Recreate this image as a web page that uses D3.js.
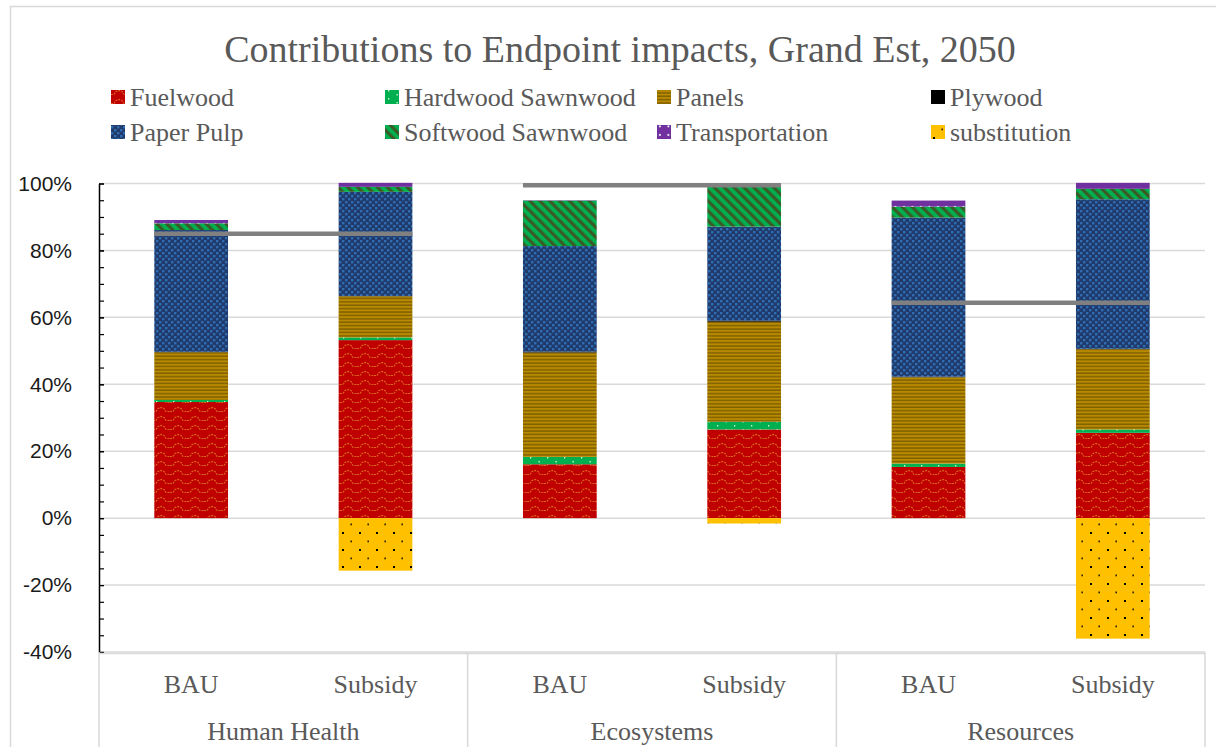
<!DOCTYPE html>
<html lang="en">
<head>
<meta charset="UTF-8">
<title>Contributions to Endpoint impacts, Grand Est, 2050</title>
<script src="https://d3js.org/d3.v7.min.js"></script>
<style>
  body { margin: 0; background: #fff; }
  svg { display: block; }
</style>
</head>
<body>
<svg id="chart" width="1216" height="747"></svg>
<script>
// categories
var groups = ["Human Health", "Ecosystems", "Resources"];
var scenarios = ["BAU", "Subsidy"];

// series values in % (BAU, Subsidy for each group)
var fuelwood      = [34.7, 53.2, 16.1, 26.5, 15.3, 25.5];
var hardwood      = [0.6, 0.8, 2.2, 2.3, 1.0, 1.0];
var panels        = [14.3, 12.3, 31.2, 29.9, 25.8, 24.0];
var plywood       = [0.1, 0.1, 0.3, 0.3, 0.2, 0.1];
var paperPulp     = [36.4, 31.1, 31.5, 28.1, 47.5, 44.7];
var softwood      = [2.0, 1.5, 13.6, 12.4, 3.3, 3.1];
var transport     = [1.0, 1.2, 0.1, 0.2, 1.8, 1.8];
var substitution  = [0, -15.7, 0, -1.6, 0, -36.0];
// grey line per group (net)
var netLine = [85.0, 99.5, 64.4];

var yTicks = [-40, -20, 0, 20, 40, 60, 80, 100];

var series = [
  { name: "Fuelwood", values: fuelwood, fill: "url(#pFuel)" },
  { name: "Hardwood Sawnwood", values: hardwood, fill: "url(#pHard)" },
  { name: "Panels", values: panels, fill: "url(#pPanels)" },
  { name: "Plywood", values: plywood, fill: "#000000" },
  { name: "Paper Pulp", values: paperPulp, fill: "url(#pPulp)" },
  { name: "Softwood Sawnwood", values: softwood, fill: "url(#pSoft)" },
  { name: "Transportation", values: transport, fill: "url(#pTrans)" },
  { name: "substitution", values: substitution, fill: "url(#pSubst)" }
];

var svg = d3.select("#chart");
var grey = "#595959";
var serif = "'Liberation Serif', 'Times New Roman', serif";

// ---- patterns (imitating Excel pattern fills)
var defs = svg.append("defs");
function pattern(id, w, h, bg) {
  var p = defs.append("pattern").attr("id", id)
    .attr("patternUnits", "userSpaceOnUse").attr("width", w).attr("height", h);
  p.append("rect").attr("width", w).attr("height", h).attr("fill", bg);
  return p;
}
// fuelwood: red with orange waves
var pf = pattern("pFuel", 17, 9, "#C00000");
pf.append("path").attr("d", "M0,6.5 L3,6.5 L5,3.5 L8,2.5 L11,3.5 L13,6.5 L17,6.5")
  .attr("fill", "none").attr("stroke", "#D9651C").attr("stroke-width", 1.2).attr("stroke-dasharray", "2,1");
// hardwood: green with light dots
var ph = pattern("pHard", 17, 8, "#00B050");
ph.append("rect").attr("x", 3).attr("y", 1).attr("width", 1.3).attr("height", 1.5).attr("fill", "#d8f5d8");
ph.append("rect").attr("x", 11.5).attr("y", 5).attr("width", 1.3).attr("height", 1.5).attr("fill", "#d8f5d8");
// panels: gold with dark horizontal lines
var pp = pattern("pPanels", 8, 3.4, "#B88A00");
pp.append("rect").attr("y", 2).attr("width", 8).attr("height", 1.3).attr("fill", "#7A5C00");
// paper pulp: blue checker
var pu = pattern("pPulp", 6, 6, "#203A6C");
pu.append("rect").attr("x", 0).attr("y", 0).attr("width", 2.4).attr("height", 2.4).attr("fill", "#2F6DB3");
pu.append("rect").attr("x", 3).attr("y", 3).attr("width", 2.4).attr("height", 2.4).attr("fill", "#2F6DB3");
// softwood: green with dark diagonal stripes
var ps = pattern("pSoft", 7, 7, "#00B050").attr("patternTransform", "rotate(-45)");
ps.append("rect").attr("width", 3.2).attr("height", 7).attr("fill", "#3A5A26");
// transportation: purple with white dots
var pt = pattern("pTrans", 8.5, 8.5, "#7030A0");
pt.append("rect").attr("x", 2).attr("y", 2).attr("width", 1.8).attr("height", 1.8).attr("fill", "#ffffff");
// substitution: yellow with black dots
var pb = pattern("pSubst", 17, 17, "#FFC000");
pb.append("rect").attr("x", 2).attr("y", 5).attr("width", 2).attr("height", 2).attr("fill", "#000");
pb.append("rect").attr("x", 10.5).attr("y", 13.5).attr("width", 1.3).attr("height", 1.8).attr("fill", "#000");

// ---- outer frame
svg.append("rect").attr("x", 10.5).attr("y", 6.5).attr("width", 1300).attr("height", 900)
  .attr("fill", "none").attr("stroke", "#d9d9d9").attr("stroke-width", 1.5);

// ---- scales
var left = 99, right = 1205;
var cats = [];
groups.forEach(function (g) { scenarios.forEach(function (s) { cats.push(g + "|" + s); }); });

var x = d3.scaleBand().domain(cats).range([left, right]).paddingInner(0.6).paddingOuter(0.3);
var xGroup = d3.scaleBand().domain(groups).range([left, right]);
var y = d3.scaleLinear().domain([-40, 100]).range([652, 183.5]);

// gridlines
svg.append("g").selectAll("line").data(yTicks).enter().append("line")
  .attr("x1", left).attr("x2", right)
  .attr("y1", function (d) { return y(d); }).attr("y2", function (d) { return y(d); })
  .attr("stroke", "#d9d9d9").attr("stroke-width", 1.5);

// ---- stacked bars
var stacks = cats.map(function () { return { pos: 0, neg: 0 }; });
var barG = svg.append("g");
series.forEach(function (s) {
  var segs = s.values.map(function (v, i) {
    var st = stacks[i], y0, y1;
    if (v >= 0) { y0 = st.pos; y1 = st.pos + v; st.pos = y1; }
    else { y0 = st.neg + v; y1 = st.neg; st.neg = y0; }
    return { cat: cats[i], y0: y0, y1: y1, v: v };
  }).filter(function (d) { return d.v !== 0; });
  barG.selectAll(null).data(segs).enter().append("rect")
    .attr("x", function (d) { return x(d.cat); })
    .attr("width", x.bandwidth())
    .attr("y", function (d) { return y(d.y1); })
    .attr("height", function (d) { return y(d.y0) - y(d.y1); })
    .attr("fill", s.fill);
});

// ---- grey net line per group, from BAU bar left edge to Subsidy bar right edge
svg.append("g").selectAll("line").data(groups).enter().append("line")
  .attr("x1", function (g) { return x(g + "|BAU"); })
  .attr("x2", function (g) { return x(g + "|Subsidy") + x.bandwidth(); })
  .attr("y1", function (g, i) { return y(netLine[i]); })
  .attr("y2", function (g, i) { return y(netLine[i]); })
  .attr("stroke", "#808080").attr("stroke-width", 4.5);

// ---- y axis
var yAxis = d3.axisLeft(y).tickValues(yTicks)
  .tickFormat(function (d) { return d + "%"; })
  .tickSizeInner(-5).tickSizeOuter(0).tickPadding(27);
var ya = svg.append("g").attr("transform", "translate(" + left + ",0)").call(yAxis);
ya.select(".domain").attr("stroke", "#000").attr("stroke-width", 1.5);
ya.selectAll(".tick line").attr("stroke", "#000").attr("stroke-width", 1.2);
ya.selectAll("text").attr("font-family", "'Liberation Sans', Arial, sans-serif")
  .attr("font-size", 21).attr("fill", "#1a1a1a");
var minor = d3.range(-40, 101, 5);
svg.append("g").attr("transform", "translate(" + left + ",0)")
  .call(d3.axisLeft(y).tickValues(minor).tickFormat("").tickSizeInner(-5).tickSizeOuter(0))
  .call(function (g) { g.select(".domain").remove(); })
  .selectAll(".tick line").attr("stroke", "#000").attr("stroke-width", 1.2);

// ---- category table below the plot
var tbl = svg.append("g").attr("stroke", "#d9d9d9").attr("stroke-width", 1.5);
tbl.append("line").attr("x1", left).attr("x2", right).attr("y1", 653.5).attr("y2", 653.5);
[left].concat(groups.map(function (g) { return xGroup(g) + xGroup.bandwidth(); })).forEach(function (xx) {
  tbl.append("line").attr("x1", xx).attr("x2", xx).attr("y1", 652).attr("y2", 747);
});

svg.append("g").selectAll("text").data(cats).enter().append("text")
  .attr("x", function (d) { return x(d) + x.bandwidth() / 2; })
  .attr("y", 693)
  .attr("text-anchor", "middle")
  .attr("font-family", serif).attr("font-size", 26).attr("fill", grey)
  .text(function (d) { return d.split("|")[1]; });

svg.append("g").selectAll("text").data(groups).enter().append("text")
  .attr("x", function (g) { return xGroup(g) + xGroup.bandwidth() / 2; })
  .attr("y", 740)
  .attr("text-anchor", "middle")
  .attr("font-family", serif).attr("font-size", 26).attr("fill", grey)
  .text(function (g) { return g; });

// ---- title
svg.append("text").attr("x", 620).attr("y", 62).attr("text-anchor", "middle")
  .attr("font-family", serif).attr("font-size", 38).attr("fill", grey)
  .text("Contributions to Endpoint impacts, Grand Est, 2050");

// ---- legend (4 columns, 2 rows)
var legendX = [111, 385, 657, 931];
var legendY = [97, 132];
var lg = svg.append("g").selectAll("g").data(series).enter().append("g")
  .attr("transform", function (d, i) {
    return "translate(" + legendX[i % 4] + "," + legendY[Math.floor(i / 4)] + ")";
  });
lg.append("rect").attr("x", 0).attr("y", -7).attr("width", 14).attr("height", 14)
  .attr("fill", function (d) { return d.fill; });
lg.append("text").attr("x", 19).attr("y", 8.5)
  .attr("font-family", serif).attr("font-size", 26).attr("fill", grey)
  .text(function (d) { return d.name; });
</script>
</body>
</html>
